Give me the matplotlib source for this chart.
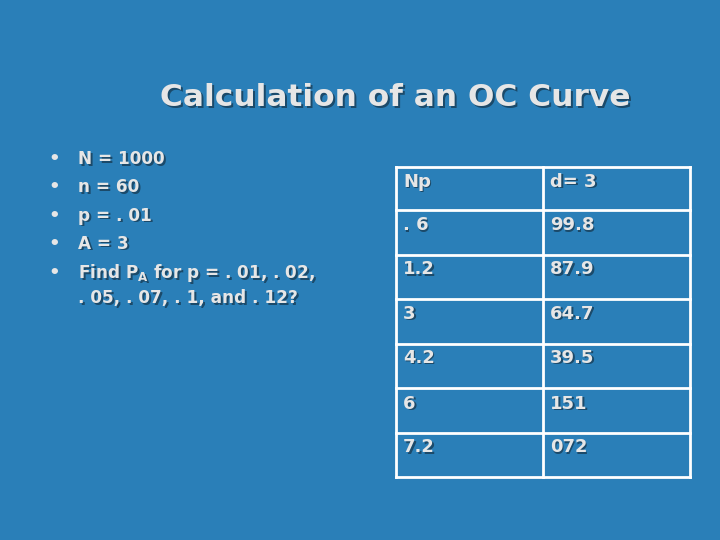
import matplotlib
matplotlib.use("Agg")
import matplotlib.pyplot as plt

title = "Calculation of an OC Curve"
bullets = ["N = 1000", "n = 60", "p = . 01", "A = 3", r"Find P$_\mathbf{A}$ for p = . 01, . 02,"]
bullet_cont = ". 05, . 07, . 1, and . 12?"
col_np = ["Np", ". 6", "1.2", "3", "4.2", "6", "7.2"]
col_d3 = ["d= 3", "99.8", "87.9", "64.7", "39.5", "151", "072"]

BG = "#2a7fb8"
FG = "#e6e6e6"
SH = "#1b4a6a"
plt.rcParams["mathtext.fontset"] = "dejavusans"
fig = plt.figure(figsize=(7.2, 5.4), dpi=100, facecolor=BG)
ax = fig.add_axes([0, 0, 1, 1])
ax.set_xlim(0, 720); ax.set_ylim(540, 0); ax.axis("off")
ax.set_facecolor(BG)
FAM = ["DejaVu Sans"]

def txt(x, y, s, size, off=1.5, **kw):
    ax.text(x + off, y + off, s, fontsize=size, color=SH, fontweight="bold", family=FAM, va="center", **kw)
    ax.text(x, y, s, fontsize=size, color=FG, fontweight="bold", family=FAM, va="center", **kw)

txt(395, 98, title, 22.5, off=2, ha="center")

ys = [159, 187, 216, 244, 273]
for y, b in zip(ys, bullets):
    ax.text(48, y, "•", fontsize=13, color=FG, family=FAM, va="center", fontweight="bold")
    txt(78, y, b, 12.2)
txt(78, 298, bullet_cont, 12.2)

# table grid
xs = [396, 543, 690]
rows = [167, 210, 255, 299, 344, 388, 433, 477]
for x in xs:
    ax.plot([x, x], [rows[0], rows[-1]], color="white", lw=2)
for y in rows:
    ax.plot([xs[0], xs[-1]], [y, y], color="white", lw=2)
tys = [182, 225, 269, 314, 358, 404, 447]
for y, a, b in zip(tys, col_np, col_d3):
    txt(403, y, a, 13)
    txt(550, y, b, 13)

fig.savefig("out.png", dpi=100, facecolor=BG)
